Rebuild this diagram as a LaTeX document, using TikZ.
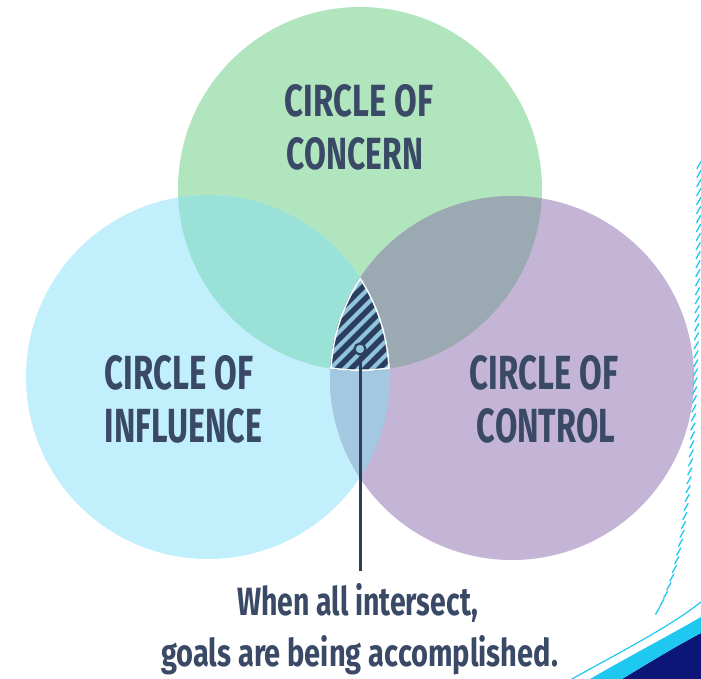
\documentclass[tikz,border=0pt]{standalone}
\usepackage{fontspec}
\usepackage{graphicx}
\setmainfont{Fira Sans}
\usetikzlibrary{decorations.markings}
\definecolor{cGreen}{HTML}{B1E5BE}
\definecolor{cCyan}{HTML}{C2EFFC}
\definecolor{cPurple}{HTML}{C4B5D6}
\definecolor{cGC}{HTML}{9AE2D8}
\definecolor{cGP}{HTML}{9BA9B2}
\definecolor{cCP}{HTML}{A4C8E1}
\definecolor{stripeL}{HTML}{8FC6DC}
\definecolor{stripeD}{HTML}{2C3E5F}
\definecolor{txt}{HTML}{394966}
\definecolor{lineC}{HTML}{2E3D5C}
\definecolor{decoCyan}{HTML}{1EC8F0}
\definecolor{decoNavy}{HTML}{0B1676}
\begin{document}
\begin{tikzpicture}[x=1pt,y=-1pt,
  lbl/.style={inner sep=0pt, outer sep=0pt, text=txt, font=\bfseries},
  notetxt/.style={inner sep=0pt, outer sep=0pt, text=txt, font=\bfseries, anchor=base west}]
\useasboundingbox (0,0) rectangle (701,679);
\fill[white] (0,0) rectangle (701,679);

% circles
\fill[cGreen] (360,189) circle[radius=182];
\fill[cCyan] (208,377) circle[radius=182];
\fill[cPurple] (512,378) circle[radius=182];
% pairwise overlaps
\begin{scope}
  \clip (360,189) circle[radius=182];
  \fill[cGC] (208,377) circle[radius=182];
\end{scope}
\begin{scope}
  \clip (360,189) circle[radius=182];
  \fill[cGP] (512,378) circle[radius=182];
\end{scope}
\begin{scope}
  \clip (208,377) circle[radius=182];
  \fill[cCP] (512,378) circle[radius=182];
\end{scope}
% triple overlap, striped
\begin{scope}
  \clip (360,189) circle[radius=182];
  \clip (208,377) circle[radius=182];
  \clip (512,378) circle[radius=182];
  \fill[stripeL] (310,260) rectangle (410,390);
  \foreach \k in {-10,...,10}
    \draw[stripeD, line width=5.5pt] ({302+14*\k},390) -- ++(120,-120);
  \draw[white, line width=3pt] (360,189) circle[radius=182];
  \draw[white, line width=3pt] (208,377) circle[radius=182];
  \draw[white, line width=3pt] (512,378) circle[radius=182];
\end{scope}

% pointer
\node[circle, draw=lineC, line width=2.2pt, fill=stripeL, minimum size=11pt, inner sep=0pt] (dot) at (360,349) {};
\coordinate (tip) at (360,571);
\draw[lineC, line width=3pt] (dot.south) -- (tip);

% labels
\node[lbl] (concernA) at (359,101) {\resizebox{148pt}{32pt}{CIRCLE OF}};
\node[lbl] (concernB) at (355,154) {\resizebox{136pt}{32pt}{CONCERN}};
\node[lbl] (influenceA) at (179,372.5) {\resizebox{148pt}{34pt}{CIRCLE OF}};
\node[lbl] (influenceB) at (183.5,425.5) {\resizebox{157pt}{34pt}{INFLUENCE}};
\node[lbl] (controlA) at (544,372.5) {\resizebox{148pt}{34pt}{CIRCLE OF}};
\node[lbl] (controlB) at (546,425.5) {\resizebox{138pt}{34pt}{CONTROL}};
\node[notetxt] (noteA) at (237,615) {\resizebox{241pt}{32pt}{When all intersect,}};
\node[notetxt] (noteB) at (161,666) {\resizebox{397pt}{31pt}{goals are being accomplished.}};

% corner decoration
\fill[decoNavy] (622,679) .. controls (650,662) and (678,645) .. (701,633) -- (701,679) -- cycle;
\fill[decoCyan] (590,679) .. controls (628,657) and (668,636) .. (701,617)
  -- (701,633) .. controls (678,645) and (650,662) .. (622,679) -- cycle;
\draw[decoCyan, line width=1.2pt] (572,679) .. controls (620,652) and (668,628) .. (701,602);
\path[decorate, decoration={markings,
  mark=between positions 0 and 1 step 9pt with {\pgftransformresetnontranslations
    \draw[decoCyan, line width=1.3pt, line cap=round] (-2,3.5) -- (2,-3.5);}}]
  (699,165) .. controls (697,450) and (690,560) .. (655,615);
\end{tikzpicture}
\end{document}
